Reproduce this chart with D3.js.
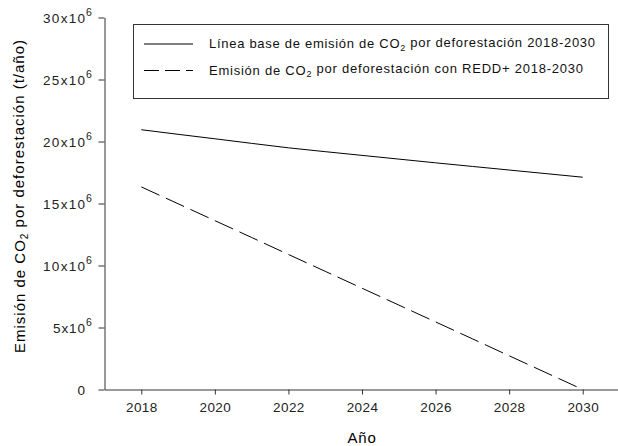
<!DOCTYPE html>
<html><head><meta charset="utf-8">
<script src="https://cdn.jsdelivr.net/npm/d3@7"></script>
<style>
html,body{margin:0;padding:0;background:#fff;}
svg{display:block;font-family:"Liberation Sans",Arial,sans-serif;}
</style></head>
<body>
<svg id="c" width="618" height="446"></svg>
<script>
const years = [2018,2019,2020,2021,2022,2023,2024,2025,2026,2027,2028,2029,2030];
const baseline = [20.95,20.58,20.22,19.85,19.49,19.18,18.88,18.58,18.28,17.99,17.70,17.41,17.12].map(v=>v*1e6);
const redd = [16.34,14.98,13.62,12.26,10.89,9.53,8.17,6.81,5.45,4.09,2.72,1.36,0].map(v=>v*1e6);
const xTicks = [2018,2020,2022,2024,2026,2028,2030];
const yTicks = [0,5e6,10e6,15e6,20e6,25e6,30e6];
const legendLabels = ["Línea base de emisión de CO|2| por deforestación 2018-2030","Emisión de CO|2| por deforestación con REDD+ 2018-2030"];

const svg = d3.select("#c");
const x = d3.scaleLinear().domain([2017,2031]).range([104.5,619.5]);
const y = d3.scaleLinear().domain([0,30e6]).range([389.5,17.5]);
const axisColor = "#333";
const FF = "Liberation Sans, Arial, sans-serif";

// X axis
const gx = svg.append("g").attr("transform","translate(0,389.5)")
  .call(d3.axisBottom(x).tickValues(xTicks).tickFormat(d3.format("d")).tickSize(5).tickSizeOuter(0));
gx.select(".domain").attr("stroke",axisColor);
gx.selectAll(".tick line").attr("stroke",axisColor);
gx.selectAll(".tick text").attr("font-size","13.5px").attr("fill","#222").attr("y",13)
  .attr("font-family",FF).attr("letter-spacing","0.4px");

// Y axis
const gy = svg.append("g").attr("transform","translate(104.5,0)")
  .call(d3.axisLeft(y).tickValues(yTicks).tickFormat("").tickSize(6).tickSizeOuter(0));
gy.select(".domain").attr("stroke",axisColor);
gy.selectAll(".tick line").attr("stroke",axisColor);
gy.selectAll(".tick").each(function(d){
  const g = d3.select(this);
  if(d===0){
    g.append("text").attr("x",-19.5).attr("dy","0.36em").attr("text-anchor","end")
      .attr("font-size","13.5px").attr("fill","#222").attr("font-family",FF).text("0");
  } else {
    const len = (d/1e6)>=10 ? 42 : 32;
    g.append("text").attr("x",-19.5-len).attr("dy","0.36em").attr("text-anchor","start")
      .attr("font-size","13.5px").attr("fill","#222").attr("font-family",FF)
      .attr("textLength",len).attr("lengthAdjust","spacing").text((d/1e6)+"x10");
    g.append("text").attr("x",-18.5).attr("dy","-0.15em").attr("text-anchor","start")
      .attr("font-size","10.5px").attr("fill","#222").attr("font-family",FF).text("6");
  }
});

// Lines
const line = d3.line().x((d,i)=>x(years[i])).y(d=>y(d));
svg.append("path").datum(baseline).attr("d",line).attr("fill","none").attr("stroke","#000").attr("stroke-width",1);
svg.append("path").datum(redd).attr("d",line).attr("fill","none").attr("stroke","#000").attr("stroke-width",1).attr("stroke-dasharray","20,7");

// Axis titles
svg.append("text").attr("x",x(2024)).attr("y",443).attr("text-anchor","middle")
  .attr("font-size","15px").attr("fill","#000").attr("letter-spacing","0.8px").text("Año");
const yl = svg.append("text").attr("transform","translate(25,"+196+") rotate(-90)")
  .attr("text-anchor","middle").attr("font-size","15px").attr("fill","#000").attr("letter-spacing","1px");
yl.append("tspan").text("Emisión de CO");
yl.append("tspan").attr("dy","0.3em").attr("font-size","10px").text("2");
yl.append("tspan").attr("dy","-0.3em").text(" por deforestación (t/año)");

// Legend
svg.append("rect").attr("x",133.5).attr("y",24.5).attr("width",475).attr("height",74)
  .attr("fill","#fff").attr("stroke","#333").attr("stroke-width",1);
const legY = [43.5, 70];
const legLen = [386, 374];
const legDash = [null,"15,6"];
legendLabels.forEach((lab,i)=>{
  svg.append("line").attr("x1",144).attr("x2",193).attr("y1",legY[i]+0.5).attr("y2",legY[i]+0.5)
    .attr("stroke","#000").attr("stroke-dasharray",legDash[i]);
  const t = svg.append("text").attr("x",209).attr("y",legY[i]).attr("dy","0.36em")
    .attr("font-size","13px").attr("fill","#111")
    .attr("textLength",legLen[i]).attr("lengthAdjust","spacing");
  const parts = lab.split("|");
  t.append("tspan").text(parts[0]);
  t.append("tspan").attr("dy","0.3em").attr("font-size","9px").text(parts[1]);
  t.append("tspan").attr("dy","-0.3em").text(parts[2]);
});
</script>
</body></html>
